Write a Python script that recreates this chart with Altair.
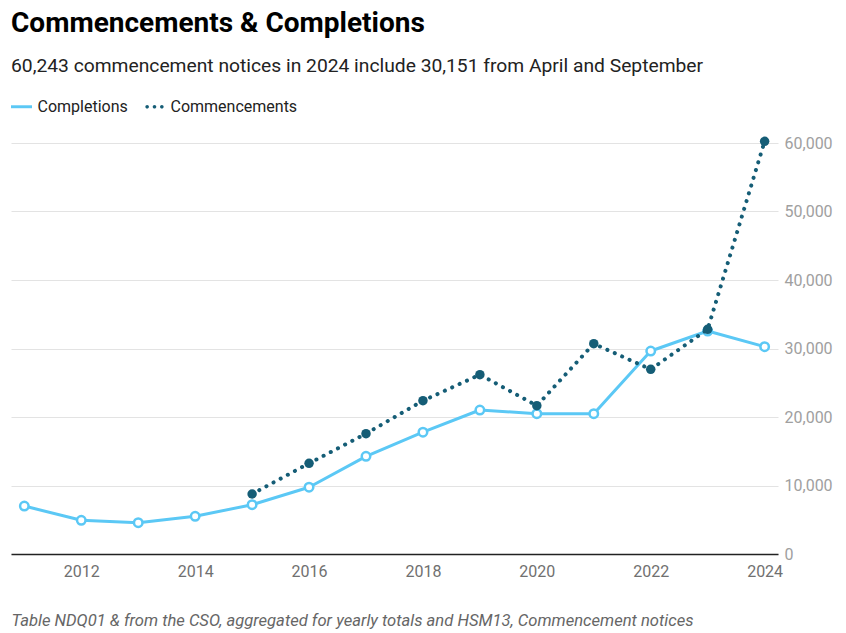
import altair as alt
import pandas as pd

years = list(range(2011, 2025))
completions = [7000, 4920, 4575, 5500, 7200, 9750, 14260, 17780, 21020, 20480, 20480, 29630, 32550, 30270]
comm_years = list(range(2015, 2025))
commencements = [8760, 13240, 17570, 22380, 26180, 21650, 30700, 26960, 32800, 60243]

series_names = ["Completions", "Commencements"]
light = "#5bc8f5"
dark = "#155d76"

title_text = "Commencements & Completions"
subtitle_text = "60,243 commencement notices in 2024 include 30,151 from April and September"
footer_text = "Table NDQ01 & from the CSO, aggregated for yearly totals and HSM13, Commencement notices"

df = pd.concat([
    pd.DataFrame({"year": years, "value": completions, "series": "Completions"}),
    pd.DataFrame({"year": comm_years, "value": commencements, "series": "Commencements"}),
], ignore_index=True)

x = alt.X(
    "year:Q",
    scale=alt.Scale(domain=[2010.766, 2024.235], nice=False, zero=False),
    axis=alt.Axis(
        values=list(range(2012, 2025, 2)), format="d", grid=False, ticks=False,
        domainColor="#222222", domainWidth=1.5, labelColor="#707070",
        labelFontSize=16, labelPadding=9, labelFont="Roboto",
        title=footer_text, titleX=0, titleY=71, titleAnchor="start", titleAlign="left",
        titleFontStyle="italic", titleFontWeight="normal", titleFontSize=16.6,
        titleColor="#666666", titleBaseline="alphabetic", titleFont="Roboto",
    ),
)
y = alt.Y(
    "value:Q",
    scale=alt.Scale(domain=[0, 60000], nice=False),
    axis=alt.Axis(
        orient="right", values=[0, 10000, 20000, 30000, 40000, 50000, 60000], format=",d",
        ticks=False, domain=False, gridColor="#e3e3e3", gridWidth=1.2,
        labelColor="#a0a0a0", labelFontSize=16, labelPadding=6, labelFont="Roboto", title=None,
    ),
)

base = alt.Chart(df)
comp = base.transform_filter(alt.datum.series == "Completions")
comm = base.transform_filter(alt.datum.series == "Commencements")

comp_line = comp.mark_line(color=light, strokeWidth=3, strokeJoin="round").encode(x=x, y=y)
comm_line = comm.mark_line(color=dark, strokeWidth=4, strokeCap="round", strokeDash=[0.1, 8]).encode(x=x, y=y)

comp_pts = comp.mark_point(
    shape="circle", filled=True, fill="white", stroke=light, strokeWidth=2.5, size=72, opacity=1
).encode(x=x, y=y)

comm_pts = comm.mark_point(
    shape="circle", filled=True, fill=dark, strokeWidth=0, size=90, opacity=1
).encode(x=x, y=y)

line_sym = "M-1,-0.14L1,-0.14L1,0.14L-1,0.14Z"
r = 0.17
dots_sym = " ".join(
    f"M{cx - r:.2f},0 a{r},{r} 0 1,0 {2 * r:.2f},0 a{r},{r} 0 1,0 {-2 * r:.2f},0"
    for cx in (-0.7, 0.0, 0.7)
)

legend_def = alt.Legend(
    title=None, orient="none", legendX=0, legendY=-47, direction="horizontal",
    symbolSize=441, symbolOpacity=1, symbolStrokeWidth=0,
    labelFontSize=16, labelColor="#222222", labelFont="Roboto",
    labelOffset=5.5, columnPadding=16,
)

legend_layer = base.mark_point(filled=True, opacity=0, size=4).encode(
    x=x, y=y,
    color=alt.Color("series:N", scale=alt.Scale(domain=series_names, range=[light, dark]), legend=legend_def),
    shape=alt.Shape("series:N", scale=alt.Scale(domain=series_names, range=[line_sym, dots_sym]), legend=legend_def),
)

chart = alt.layer(legend_layer, comp_line, comp_pts, comm_line, comm_pts).properties(
    width=767, height=411,
    title=alt.Title(title_text, subtitle=subtitle_text, anchor="start", frame="group",
                    font="Roboto", fontSize=28, fontWeight="bold", color="#000000",
                    subtitleFont="Roboto", subtitleFontSize=19.25, subtitleColor="#222222",
                    subtitlePadding=19, offset=20),
    autosize=alt.AutoSizeParams(type="none"),
    padding={"left": 3, "top": 135, "right": 60, "bottom": 76},
).configure(font="Roboto").configure_view(stroke=None)

chart.save("out.html", embed_options={"renderer": "svg", "actions": False})
